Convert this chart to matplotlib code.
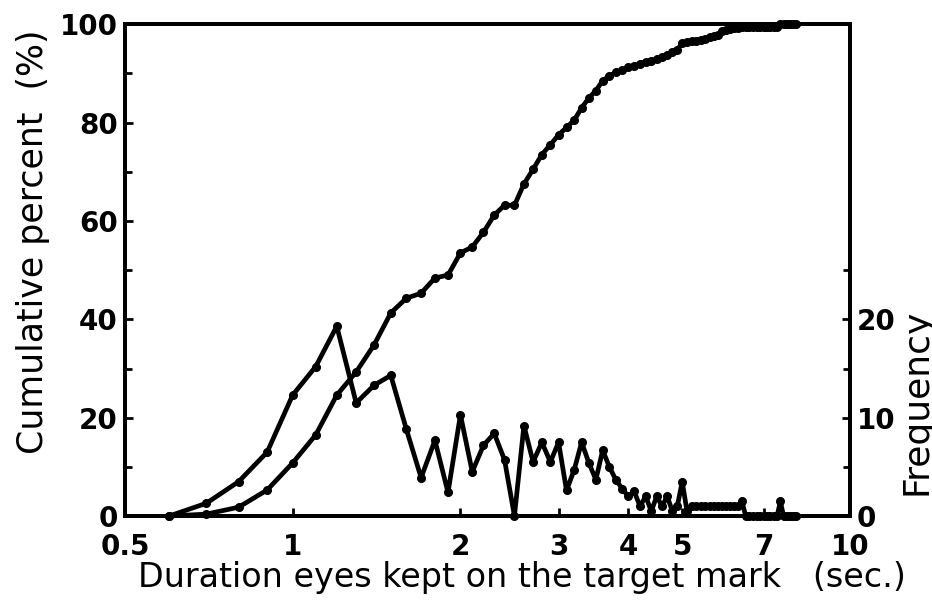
"""
Cumulative percent and frequency of eye-fixation duration (log time axis).
"""

import matplotlib

matplotlib.use("Agg")
import matplotlib.pyplot as plt
from matplotlib.ticker import FixedLocator, NullLocator

plt.rcParams["font.family"] = ["DejaVu Sans"]

# duration bins (sec.)
duration = [
    0.6, 0.7, 0.8, 0.9, 1.0, 1.1, 1.2, 1.3, 1.4,
    1.5, 1.6, 1.7, 1.8, 1.9, 2.0, 2.1, 2.2, 2.3, 2.4,
    2.5, 2.6, 2.7, 2.8, 2.9, 3.0, 3.1, 3.2, 3.3, 3.4,
    3.5, 3.6, 3.7, 3.8, 3.9, 4.0, 4.1, 4.2, 4.3, 4.4,
    4.5, 4.6, 4.7, 4.8, 4.9, 5.0, 5.1, 5.2, 5.3, 5.4,
    5.5, 5.6, 5.7, 5.8, 5.9, 6.0, 6.1, 6.2, 6.3, 6.4,
    6.5, 6.6, 6.7, 6.8, 6.9, 7.0, 7.1, 7.2, 7.3, 7.4,
    7.5, 7.6, 7.7, 7.8, 7.9, 8.0,
]

# frequency (right axis)
frequency = [
    0, 1.3, 3.5, 6.5, 12.3, 15.2, 19.3, 11.5, 13.3,
    14.3, 8.8, 3.9, 7.7, 2.4, 10.3, 4.5, 7.2, 8.4, 5.7,
    0, 9.2, 5.5, 7.5, 5.5, 7.5, 2.6, 4.7, 7.5, 5.4,
    3.7, 6.7, 5.0, 3.7, 2.8, 2.0, 2.5, 1.0, 2.0, 0.5,
    2.0, 1.0, 2.0, 0.5, 1.0, 3.5, 0.5, 1.0, 1.0, 1.0,
    1.0, 1.0, 1.0, 1.0, 1.0, 1.0, 1.0, 1.0, 1.0, 1.5,
    0, 0, 0, 0, 0, 0, 0, 0, 0, 0,
    1.5, 0, 0, 0, 0, 0,
]

# cumulative percent (left axis)
cumulative = [
    0, 0.4, 1.8, 5.3, 10.8, 16.5, 24.6, 29.3, 34.8,
    41.3, 44.3, 45.3, 48.4, 49.0, 53.5, 54.7, 57.7, 61.2, 63.2,
    63.2, 67.5, 70.5, 73.5, 75.5, 77.5, 79.0, 80.5, 83.0, 85.0,
    86.5, 88.5, 89.5, 90.2, 90.7, 91.2, 91.6, 92.0, 92.4, 92.6,
    93.0, 93.3, 93.8, 94.3, 94.8, 96.2, 96.3, 96.5, 96.6, 96.8,
    97.0, 97.3, 97.6, 97.9, 98.6, 98.9, 99.1, 99.2, 99.3, 99.4,
    99.4, 99.4, 99.4, 99.5, 99.5, 99.5, 99.5, 99.5, 99.5, 99.5,
    100, 100, 100, 100, 100, 100,
]

x_ticks = [0.5, 1, 2, 3, 4, 5, 7, 10]
x_ticklabels = ["0.5", "1", "2", "3", "4", "5", "7", "10"]
left_ticks = [0, 20, 40, 60, 80, 100]
right_ticks = [0, 10, 20]

fig = plt.figure(figsize=(9.32, 6.05), dpi=100)
ax = fig.add_axes([0.134, 0.147, 0.778, 0.813])
ax2 = ax.twinx()

line_kw = dict(color="black", lw=3.4, marker="o", ms=5.5, clip_on=False)
ax.plot(duration, cumulative, zorder=3, **line_kw)
ax2.plot(duration, frequency, zorder=3, **line_kw)

ax.set_xscale("log")
ax.set_xlim(0.5, 10)
ax.set_ylim(0, 100)
ax2.set_ylim(0, 50)

ax.xaxis.set_major_locator(FixedLocator(x_ticks))
ax.xaxis.set_minor_locator(NullLocator())
ax.set_xticklabels(x_ticklabels)
ax.set_yticks(left_ticks)
ax.set_yticks(range(0, 101, 10), minor=True)
ax2.set_yticks(right_ticks)
ax2.set_yticks([0, 5, 10, 15, 20, 25], minor=True)

for a in (ax, ax2):
    a.tick_params(which="both", direction="in", width=2)
    a.tick_params(which="major", length=6)
    a.tick_params(which="minor", length=5)
    for s in a.spines.values():
        s.set_linewidth(2.8)
for lab in ax.get_xticklabels() + ax.get_yticklabels() + ax2.get_yticklabels():
    lab.set_fontsize(20)
    lab.set_fontweight("bold")
ax.tick_params(axis="x", pad=12)
ax.tick_params(axis="y", pad=5)
ax2.tick_params(axis="y", pad=5)

ax.set_xlabel("Duration eyes kept on the target mark   (sec.)", fontsize=24)
ax.set_ylabel("Cumulative percent  (%)", fontsize=25)
ax2.set_ylabel("Frequency", fontsize=26)
for lbl in (ax.xaxis.label, ax.yaxis.label, ax2.yaxis.label):
    lbl.set_ha("center")
    lbl.set_va("center")
    lbl.set_rotation_mode("anchor")
ax.xaxis.set_label_coords(0.548, -0.124)
ax.yaxis.set_label_coords(-0.127, 0.557)
ax2.yaxis.set_label_coords(1.092, 0.232)

fig.savefig("out.png", dpi=100)
